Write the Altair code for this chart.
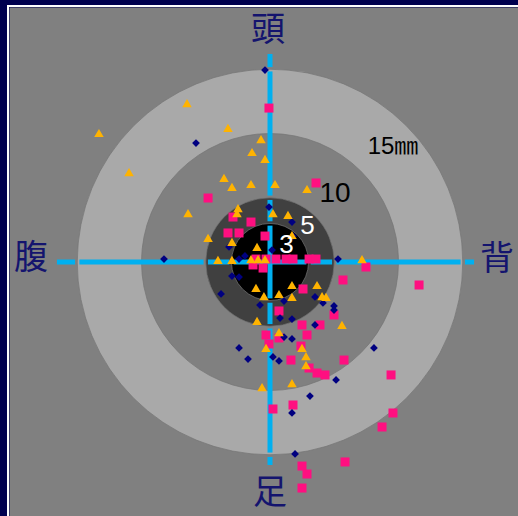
import math

import altair as alt
import pandas as pd

# ---- data (millimetres; x: 腹 negative / 背 positive, y: 足 negative / 頭 positive) ----
navy_x = [-0.39, -5.76, -0.08, 1.71, 1.79, -3.19, 0.16, -1.95, -2.41, -8.25, 5.29,
          -2.96, -2.41, -3.81, -0.78, 1.09, 0.78, 1.71, 3.50, 4.12, 4.98, 4.98,
          3.50, 1.09, 1.71, -2.41, -1.71, 0.23, 0.70, 8.09, 5.14, 3.11, 1.71, 1.95]
navy_y = [14.94, 9.26, 4.28, 3.11, 2.02, 1.17, 0.93, 0.47, 0.23, 0.23, 0.23,
          -1.09, -1.17, -2.49, -3.35, -3.04, -4.36, -4.44, -2.72, -3.19, -3.42, -3.74,
          -4.90, -5.84, -5.99, -6.69, -7.55, -7.39, -7.70, -6.69, -9.18, -10.43, -11.75, -14.94]

orange_x = [-6.46, -13.31, -3.27, -10.97, -1.40, -0.70, -0.39, -3.58, -2.96, -1.48, 0.39,
            2.88, -6.38, -2.49, -2.57, 0.23, 1.40, -4.82, -2.96, -1.01, 1.71, -4.05,
            -2.96, -1.48, -0.93, -0.39, 7.16, -1.09, -0.47, 0.70, 1.71, 1.71, 3.66,
            4.05, 4.36, -1.01, 0.70, 5.60, -0.31, 2.49, 2.80, 2.80, -0.62, 1.71]
orange_y = [12.37, 10.04, 10.43, 7.00, 8.56, 9.57, 8.02, 6.54, 5.84, 6.07, 6.07,
            5.68, 3.81, 4.20, 3.81, 3.81, 3.66, 1.87, 1.56, 1.17, 2.10, 0.16,
            0.16, 0.23, 0.23, 0.23, 0.23, -2.02, -2.65, -2.49, -1.79, -2.72, -1.79,
            -2.65, -2.72, -4.59, -5.45, -4.90, -6.69, -6.69, -7.32, -8.02, -9.73, -9.42]

pink_x = [-0.08, 3.58, -4.82, -2.88, -1.48, -3.27, -2.41, -0.39, -1.09, -0.31, 0.47,
          1.25, 1.79, 3.04, 3.58, -1.32, -0.54, 7.47, 5.68, 11.60, 2.57, 0.70,
          4.98, 2.49, 3.89, -0.31, 0.70, 2.88, -0.08, 2.41, 1.63, 5.76, 3.04,
          3.66, 4.28, 9.42, 0.23, 1.79, 9.57, 8.72, 5.84, 2.49, 2.88, 2.49]
pink_y = [11.98, 6.15, 4.98, 3.50, 3.11, 2.26, 2.26, 2.02, 0.23, 0.23, 0.23,
          0.23, 0.23, 0.23, 0.23, -0.23, -0.47, -0.39, -1.40, -1.79, -2.10, -3.81,
          -4.12, -4.90, -4.90, -5.68, -5.91, -5.68, -6.38, -6.54, -7.63, -7.63, -8.25,
          -8.64, -8.79, -8.79, -11.44, -11.13, -11.75, -12.84, -15.56, -15.88, -16.50, -17.59]

ring_radii = [15, 10, 5, 3]
ring_labels = ["15㎜", "10", "5", "3"]
ring_label_x = [9.57, 5.06, 2.92, 1.28]
ring_label_y = [8.95, 5.33, 2.80, 1.36]

direction_labels = ["頭", "足", "腹", "背"]
direction_x = [-0.16, 0.0, -18.60, 17.67]
direction_y = [17.98, -18.05, 0.23, 0.16]

# cross-hair extents and the ring boundaries where it is broken
cross_left, cross_right = -16.58, 15.88
cross_top, cross_bottom = 16.19, -15.80
cross_breaks = [15, 5, 3]

# ---- layout ----
PX_PER_MM = 12.85
W = H = 509
CX, CY = 261, 255  # plot-area pixel of the origin

x_scale = alt.Scale(domain=[-CX / PX_PER_MM, (W - CX) / PX_PER_MM], nice=False, zero=False)
y_scale = alt.Scale(domain=[-(H - CY) / PX_PER_MM, CY / PX_PER_MM], nice=False, zero=False)
r_scale = alt.Scale(type="linear", domain=[0, 15], range=[0, 15 * PX_PER_MM], zero=True)

ring_fill = ["#A9A9A9", "#808080", "#404040", "#000000"]
rings = pd.DataFrame({"r": ring_radii, "fill": ring_fill, "cx": 0.0, "cy": 0.0})

rings_layer = alt.Chart(rings).mark_arc(
    theta=0, theta2=2 * math.pi, stroke="#747474", strokeWidth=0.7
).encode(
    x=alt.X("cx:Q", scale=x_scale, axis=None),
    y=alt.Y("cy:Q", scale=y_scale, axis=None),
    radius=alt.Radius("r:Q", scale=r_scale, stack=None),
    fill=alt.Fill("fill:N", scale=None),
)

# cross-hair segments, split with a small gap at each ring boundary
gap = 0.17
cuts = sorted([-b for b in cross_breaks] + cross_breaks)
seg_rows = []
h_pts = [cross_left] + cuts + [cross_right]
for a, b in zip(h_pts[:-1], h_pts[1:]):
    a2 = a + (gap if a in cuts else 0)
    b2 = b - (gap if b in cuts else 0)
    seg_rows.append({"x1": a2, "x2": b2, "y1": 0.0, "y2": 0.0})
v_pts = [cross_bottom] + cuts + [cross_top]
for a, b in zip(v_pts[:-1], v_pts[1:]):
    a2 = a + (gap if a in cuts else 0)
    b2 = b - (gap if b in cuts else 0)
    seg_rows.append({"x1": 0.0, "x2": 0.0, "y1": a2, "y2": b2})
segments = pd.DataFrame(seg_rows)

cross_layer = alt.Chart(segments).mark_rule(
    color="#00B0F0", strokeWidth=5, strokeCap="butt"
).encode(x="x1:Q", x2="x2:Q", y="y1:Q", y2="y2:Q")

pink = pd.DataFrame({"x": pink_x, "y": pink_y})
navy = pd.DataFrame({"x": navy_x, "y": navy_y})
orange = pd.DataFrame({"x": orange_x, "y": orange_y})

pink_layer = alt.Chart(pink).mark_point(
    shape="square", filled=True, size=81, color="#FF0F80", opacity=1
).encode(x="x:Q", y="y:Q")
navy_layer = alt.Chart(navy).mark_point(
    shape="diamond", filled=True, size=60, color="#000080", opacity=1
).encode(x="x:Q", y="y:Q")
orange_layer = alt.Chart(orange).mark_point(
    shape="triangle-up", filled=True, size=90, color="#FFB300", opacity=1
).encode(x="x:Q", y="y:Q")

directions = pd.DataFrame({"t": direction_labels, "x": direction_x, "y": direction_y})
direction_layer = alt.Chart(directions).mark_text(
    font="Noto Sans CJK JP", fontSize=34, color="#14146E", align="center", baseline="middle"
).encode(x="x:Q", y="y:Q", text="t:N")

label_style = [("#000000", 24), ("#000000", 28), ("#FFFFFF", 26), ("#FFFFFF", 26)]
label_layers = []
for txt, lx, ly, (col, fs) in zip(ring_labels, ring_label_x, ring_label_y, label_style):
    df = pd.DataFrame({"t": [txt], "x": [lx], "y": [ly]})
    label_layers.append(
        alt.Chart(df).mark_text(
            font="Liberation Sans, Noto Sans CJK JP", fontSize=fs, color=col,
            align="center", baseline="middle"
        ).encode(x="x:Q", y="y:Q", text="t:N")
    )

# white inner edge of the navy frame
frame_left = alt.Chart(pd.DataFrame({"k": [0]})).mark_rule(color="#FFFFFF", strokeWidth=2).encode(
    x=alt.value(-1), y=alt.value(-2), y2=alt.value(H)
)
frame_top = alt.Chart(pd.DataFrame({"k": [0]})).mark_rule(color="#FFFFFF", strokeWidth=2).encode(
    x=alt.value(-1), x2=alt.value(W), y=alt.value(-1)
)

chart = alt.layer(
    rings_layer, cross_layer, pink_layer, navy_layer, orange_layer,
    direction_layer, *label_layers, frame_left, frame_top,
).properties(
    width=W, height=H, background="#00004F",
    padding={"left": 9, "top": 7, "right": 0, "bottom": 0},
    autosize=alt.AutoSizeParams(type="none"),
).configure_view(fill="#808080", stroke="transparent")

chart.save("out.html", embed_options={"renderer": "svg", "actions": False})
